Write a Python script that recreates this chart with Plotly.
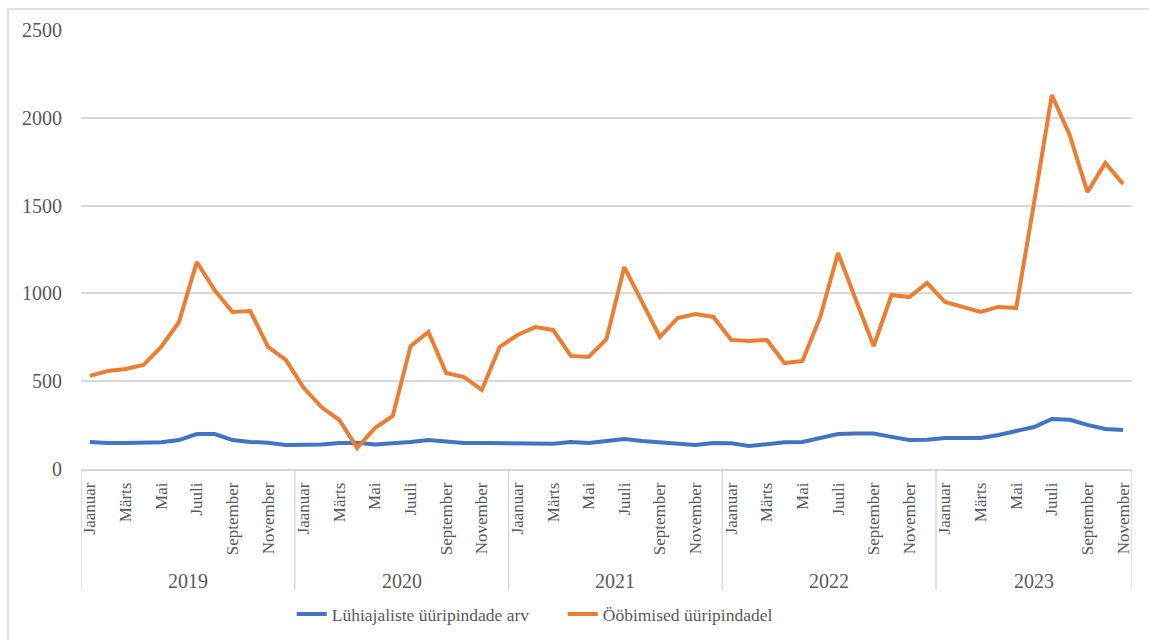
import plotly.graph_objects as go

# Monthly series, January 2019 – November 2023
years = ["2019", "2020", "2021", "2022", "2023"]
month_names = ["Jaanuar", "Veebruar", "Märts", "Aprill", "Mai", "Juuni",
               "Juuli", "August", "September", "Oktoober", "November", "Detsember"]
months_per_year = [12, 12, 12, 12, 11]

short_term_units = [
    154, 148, 148, 148, 152, 165, 199, 199, 165, 154, 150, 137,
    137, 140, 148, 150, 140, 146, 154, 165, 154, 148, 148, 148,
    146, 144, 144, 154, 148, 160, 171, 160, 152, 142, 137, 148,
    146, 131, 140, 152, 154, 175, 199, 202, 202, 183, 165, 167,
    177, 177, 177, 194, 216, 239, 285, 280, 251, 228, 222,
]

overnight_stays = [
    530, 558, 570, 592, 695, 837, 1179, 1019, 894, 900, 695, 621,
    462, 353, 279, 120, 233, 302, 700, 780, 547, 524, 450, 695,
    763, 808, 792, 644, 638, 740, 1150, 945, 752, 860, 883, 866,
    735, 729, 735, 603, 615, 866, 1230, 962, 700, 991, 979, 1059,
    951, 923, 894, 923, 917, 1515, 2130, 1902, 1577, 1743, 1623,
]

series_names = ["Lühiajaliste üüripindade arv", "Ööbimised üüripindadel"]
colors = ["#4472C4", "#ED7D31"]

# Build category index and labels
labels = []
for y, n in zip(years, months_per_year):
    labels.extend(month_names[:n])
x = list(range(len(labels)))
tick_vals = [i for i in x if i % 12 % 2 == 0]
tick_text = [labels[i] for i in tick_vals]

FONT = "Liberation Serif"
GRAY = "#595959"
LINE = "#D9D9D9"

fig = go.Figure()
for name, vals, c in zip(series_names, [short_term_units, overnight_stays], colors):
    fig.add_trace(go.Scatter(x=x, y=vals, mode="lines", name=name,
                             line=dict(color=c, width=4)))

W, H = 1149, 640
ml, mr, mt, mb = 81, 17, 30, 171
pw, ph = W - ml - mr, H - mt - mb

def px_x(p):
    return (p - ml) / pw

def px_y(p):
    return (H - mb - p) / ph

shapes = []
# year group separators
bounds = [-0.5]
for n in months_per_year:
    bounds.append(bounds[-1] + n)
for b in bounds:
    shapes.append(dict(type="line", xref="x", yref="paper", x0=b, x1=b,
                       y0=0, y1=px_y(590), line=dict(color=LINE, width=1.5)))
# outer chart frame
shapes.append(dict(type="rect", xref="paper", yref="paper",
                   x0=px_x(8), x1=px_x(1160), y0=px_y(650), y1=px_y(9),
                   line=dict(color=LINE, width=1.5), fillcolor="rgba(0,0,0,0)"))

annotations = []
start = 0
for y, n in zip(years, months_per_year):
    center = start + (n - 1) / 2
    annotations.append(dict(x=center, xref="x", y=px_y(581), yref="paper",
                            yanchor="middle", text=y, showarrow=False,
                            font=dict(family=FONT, size=20, color=GRAY)))
    start += n

fig.update_layout(
    width=W, height=H,
    margin=dict(l=ml, r=mr, t=mt, b=mb, autoexpand=False),
    paper_bgcolor="white", plot_bgcolor="white",
    font=dict(family=FONT, size=20, color=GRAY),
    showlegend=True,
    legend=dict(orientation="h", x=px_x(297) - 0.005, xanchor="left",
                y=px_y(614), yanchor="middle",
                entrywidth=226, entrywidthmode="pixels",
                font=dict(family=FONT, size=17.5, color=GRAY)),
    shapes=shapes,
    annotations=annotations,
)
fig.update_xaxes(range=[-0.5, len(x) - 0.5], tickmode="array",
                 tickvals=tick_vals, ticktext=tick_text, tickangle=-90,
                 showgrid=False, zeroline=False, showline=True,
                 linecolor=LINE, linewidth=1.5, ticks="",
                 ticklabelstandoff=5, automargin=False,
                 tickfont=dict(family=FONT, size=17, color=GRAY))
fig.update_yaxes(range=[0, 2500], dtick=500, showgrid=True, gridcolor=LINE,
                 gridwidth=1.5, zeroline=False, showline=False, ticks="",
                 ticklabelstandoff=18, automargin=False,
                 tickfont=dict(family=FONT, size=20, color=GRAY))

fig.write_html("out.html")
